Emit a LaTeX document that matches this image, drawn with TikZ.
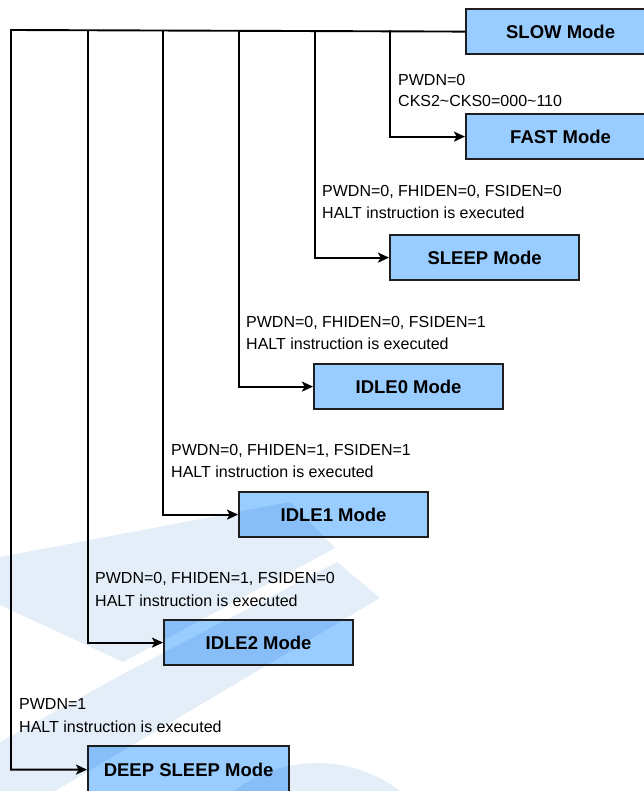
\documentclass[tikz,border=0pt]{standalone}
\usepackage{fontspec}
\setmainfont{Liberation Sans}
\usetikzlibrary{arrows.meta}
\definecolor{modefill}{HTML}{99CCFF}
\definecolor{modeedge}{HTML}{1F1F1F}
\definecolor{wmark}{HTML}{E4EEF8}

\begin{document}
\begin{tikzpicture}[x=1pt,y=-1pt,
  modebox/.style={draw=modeedge, line width=2.2pt, fill=modefill,
    minimum width=189pt, minimum height=45pt, inner sep=0pt,
    font=\fontsize{18.5}{20}\selectfont\bfseries, anchor=north west},
  cond/.style={anchor=base west, inner sep=0pt, font=\fontsize{16}{18}\selectfont},
  link/.style={line width=1.9pt, draw=black},
  arr/.style={link, -{Stealth[length=11pt,width=10pt,inset=2.5pt]}}]

\useasboundingbox (0,0) rectangle (644,791);

% operating modes
\node[modebox] (slow)  at (465,8)   {SLOW Mode};
\node[modebox] (fast)  at (465,113) {FAST Mode};
\node[modebox] (sleep) at (389,234) {SLEEP Mode};
\node[modebox] (idle0) at (313,363) {IDLE0 Mode};
\node[modebox] (idle1) at (238,491) {IDLE1 Mode};
\node[modebox] (idle2) at (163,619) {IDLE2 Mode};
\node[modebox, minimum width=201pt, minimum height=47pt] (deep) at (87,745) {DEEP SLEEP Mode};

% branch points on the bus leaving SLOW mode
\coordinate (jfast)  at (390,30);
\coordinate (jsleep) at (315,30);
\coordinate (jidle0) at (239,30);
\coordinate (jidle1) at (163,30);
\coordinate (jidle2) at (88,30);
\coordinate (jdeep)  at (11,30);

\draw[arr] (slow.west) -- (jdeep) |- (deep.west);
\draw[arr] (jfast)  |- (fast.west);
\draw[arr] (jsleep) |- (sleep.west);
\draw[arr] (jidle0) |- (idle0.west);
\draw[arr] (jidle1) |- (idle1.west);
\draw[arr] (jidle2) |- (idle2.west);

% transition conditions
\node[cond] (cfast1)  at (398,86)  {PWDN=0};
\node[cond] (cfast2)  at (398,107) {CKS2\textasciitilde CKS0=000\textasciitilde 110};
\node[cond] (csleep1) at (322,197) {PWDN=0, FHIDEN=0, FSIDEN=0};
\node[cond] (csleep2) at (322,219) {HALT instruction is executed};
\node[cond] (cidle01) at (246,327) {PWDN=0, FHIDEN=0, FSIDEN=1};
\node[cond] (cidle02) at (246,349) {HALT instruction is executed};
\node[cond] (cidle11) at (171,455) {PWDN=0, FHIDEN=1, FSIDEN=1};
\node[cond] (cidle12) at (171,477) {HALT instruction is executed};
\node[cond] (cidle21) at (95,583)  {PWDN=0, FHIDEN=1, FSIDEN=0};
\node[cond] (cidle22) at (95,606)  {HALT instruction is executed};
\node[cond] (cdeep1)  at (19,709)  {PWDN=1};
\node[cond] (cdeep2)  at (19,732)  {HALT instruction is executed};

% faint background logo
\begin{scope}[blend mode=multiply]
  \fill[wmark] (0,557) -- (290,502) -- (335,548) -- (123,662) -- (0,605) -- cycle;
  \fill[wmark] (337,562) -- (380,598) -- (55,791) -- (0,791) -- (0,742) -- (123,674) -- cycle;
  \fill[wmark] (317,900) circle[radius=137pt];
\end{scope}
\end{tikzpicture}
\end{document}
